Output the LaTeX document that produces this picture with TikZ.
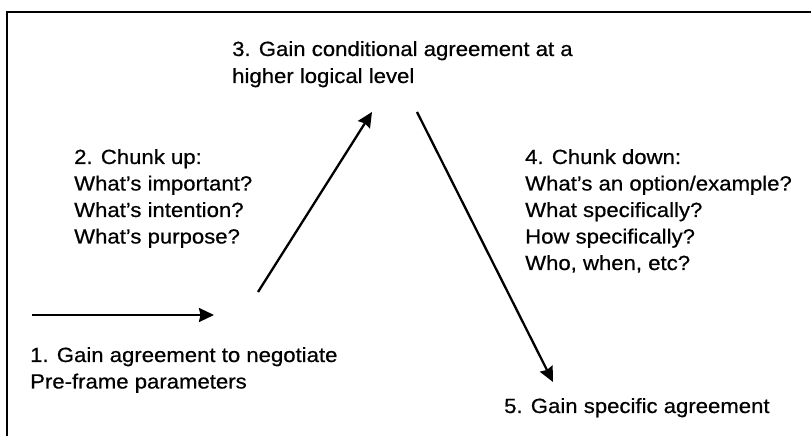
\documentclass[tikz,border=0pt]{standalone}
\usepackage{fontspec}
\setmainfont{Liberation Sans}[FakeStretch=1.08,FakeBold=0.6]
\usetikzlibrary{arrows.meta}
\begin{document}
\begin{tikzpicture}[x=1pt,y=1pt,
  lbl/.style={anchor=base west, inner sep=0pt, align=left, font=\fontsize{20.5}{26.5}\selectfont},
  arr/.style={line width=2.3pt, -{Stealth[length=15pt,width=14pt,inset=1.5pt]}},
  frame/.style={line width=2pt}]
\useasboundingbox (0,0) rectangle (811,436);
\fill[white] (0,0) rectangle (811,436);
% frame (top and left edges visible)
\coordinate (fbl) at (7,0);
\coordinate (ftl) at (7,424);
\coordinate (ftr) at (811,424);
\draw[frame] (fbl) -- (ftl) -- (ftr);
% texts (base anchor = baseline of the last line)
\node[lbl, font=\fontsize{20.5}{27}\selectfont] (n3) at (232,353) {3. Gain conditional agreement at a\\higher logical level};
\node[lbl] (n2) at (74,192.5) {2. Chunk up:\\What’s important?\\What’s intention?\\What’s purpose?};
\node[lbl] (n4) at (525,166) {4. Chunk down:\\What’s an option/example?\\What specifically?\\How specifically?\\Who, when, etc?};
\node[lbl] (n1) at (30,47.5) {1. Gain agreement to negotiate\\Pre-frame parameters};
\node[lbl] (n5) at (504,23) {5. Gain specific agreement};
% arrow end points
\coordinate (h0) at (32,121);
\coordinate (h1) at (214,121);
\coordinate (u0) at (258,144);
\coordinate (u1) at (372,324);
\coordinate (d0) at (417,324);
\coordinate (d1) at (553,54);
\draw[arr] (h0) -- (h1);
\draw[arr] (u0) -- (u1);
\draw[arr] (d0) -- (d1);
\end{tikzpicture}
\end{document}
